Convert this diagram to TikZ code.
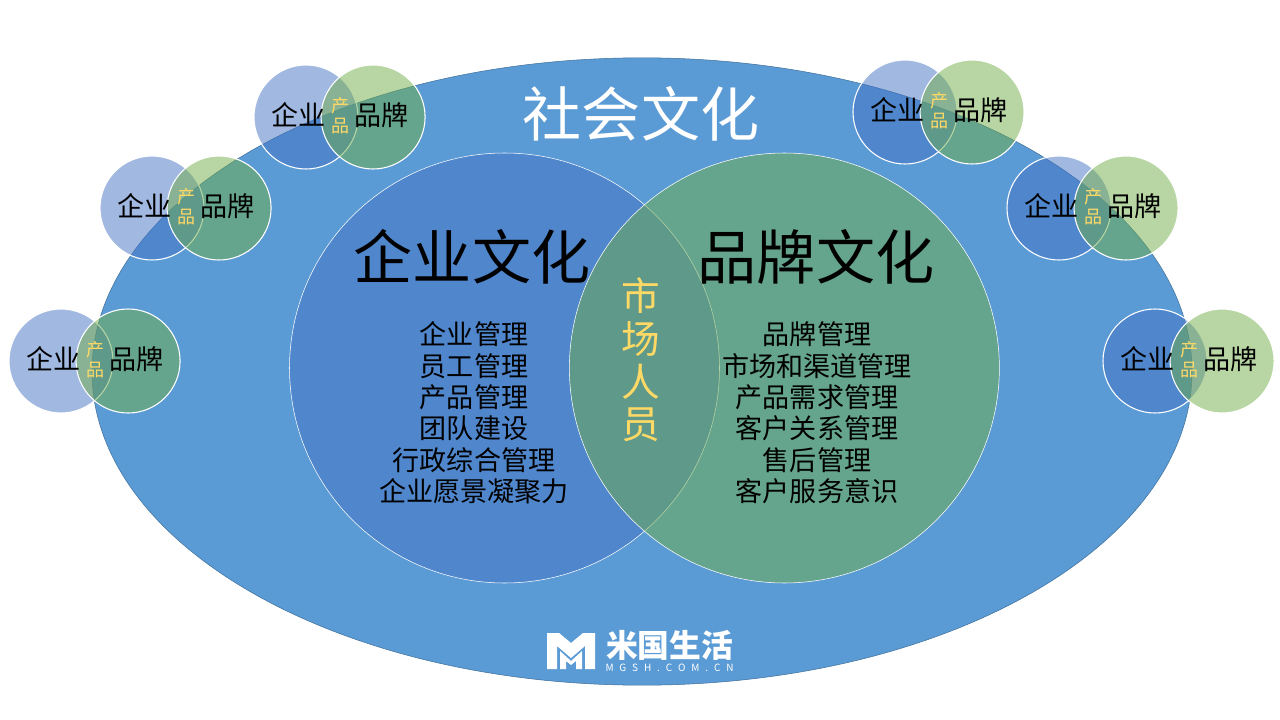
\documentclass[tikz,border=0pt]{standalone}
\usepackage{fontspec}
\setmainfont{Noto Sans CJK SC}
\usetikzlibrary{positioning,calc,shapes.geometric}
\definecolor{society}{HTML}{5B9BD5}
\definecolor{bluefill}{HTML}{4472C4}
\definecolor{greenfill}{HTML}{70AD47}
\definecolor{marketgold}{HTML}{FFD966}
\definecolor{societyline}{HTML}{41719C}
\tikzset{
  % --- big circles ---
  societyball/.style={ellipse, draw=societyline, fill=society, minimum width=825pt,
                      minimum height=470.5pt, inner sep=0pt},
  bigblue/.style={circle, draw=white, fill=bluefill, fill opacity=0.5, minimum size=322.5pt,
                  inner sep=0pt},
  biggreen/.style={bigblue, fill=greenfill},
  % --- small pairs ---
  smallblue/.style={circle, draw=white, thick, fill=bluefill, fill opacity=0.5, draw opacity=1,
                    minimum size=78pt, inner sep=0pt},
  smallgreen/.style={smallblue, fill=greenfill},
  qylabel/.style={font=\fontsize{20.3}{24}\selectfont, xshift=-5.5pt, yshift=1.5pt},
  pplabel/.style={font=\fontsize{20.3}{24}\selectfont, xshift=6.5pt, yshift=1.5pt},
  cplabel/.style={font=\fontsize{13.5}{15}\selectfont, text=marketgold, align=center,
                  text width=14pt, inner sep=0pt, xshift=0.7pt, yshift=0.7pt},
  % --- titles and lists ---
  titletext/.style={font=\fontsize{44.3}{50}\selectfont, inner sep=0pt},
  listtext/.style={font=\fontsize{20.3}{23.5}\selectfont, align=center, inner sep=0pt},
  markettext/.style={font=\fontsize{29}{32}\selectfont, text=marketgold, align=center,
                     text width=32pt, inner sep=0pt},
  logomark/.style={fill=white, draw=none},
}

\begin{document}
\begin{tikzpicture}[x=0.75pt, y=-0.75pt]
  \useasboundingbox (0,0) rectangle (1280,720);
  \node[societyball] (society) at (642,371.5) {};
  \node[titletext, text=white] (societytitle) at (641,114) {社会文化};
  \node[bigblue] (company) at (504.5,368) {};
  \node[biggreen, right=-113pt of company] (brand) {};
  \node[titletext] (companytitle) at (472,257) {企业文化};
  \node[titletext] (brandtitle) at (816,257) {品牌文化};
  \node[listtext] (companylist) at (474,413)
        {企业管理\\员工管理\\产品管理\\团队建设\\行政综合管理\\企业愿景凝聚力};
  \node[listtext] (brandlist) at (817,413)
        {品牌管理\\市场和渠道管理\\产品需求管理\\客户关系管理\\售后管理\\客户服务意识};
  \node[markettext] (market) at (641,360) {市\\场\\人\\员};
  % --- left pairs ---
  \node[smallblue] (blueA) at (306,117) {};
  \node[smallgreen, right=-28.5pt of blueA] (greenA) {};
  \node[smallblue] (blueB) at (152,208) {};
  \node[smallgreen, right=-28.5pt of blueB] (greenB) {};
  \node[smallblue] (blueC) at (61,361) {};
  \node[smallgreen, right=-28.5pt of blueC] (greenC) {};
  % --- right pairs ---
  \node[smallblue] (blueD) at (905,112) {};
  \node[smallgreen, right=-28.5pt of blueD] (greenD) {};
  \node[smallblue] (blueE) at (1059,208) {};
  \node[smallgreen, right=-28.5pt of blueE] (greenE) {};
  \node[smallblue] (blueF) at (1155,361) {};
  \node[smallgreen, right=-28.5pt of blueF] (greenF) {};
  % --- pair labels ---
  \node[qylabel] (qyA) at (blueA) {企业};
  \node[pplabel] (ppA) at (greenA) {品牌};
  \node[cplabel] (cpA) at ($(blueA)!.5!(greenA)$) {产\\品};
  \node[qylabel] (qyB) at (blueB) {企业};
  \node[pplabel] (ppB) at (greenB) {品牌};
  \node[cplabel] (cpB) at ($(blueB)!.5!(greenB)$) {产\\品};
  \node[qylabel] (qyC) at (blueC) {企业};
  \node[pplabel] (ppC) at (greenC) {品牌};
  \node[cplabel] (cpC) at ($(blueC)!.5!(greenC)$) {产\\品};
  \node[qylabel] (qyD) at (blueD) {企业};
  \node[pplabel] (ppD) at (greenD) {品牌};
  \node[cplabel] (cpD) at ($(blueD)!.5!(greenD)$) {产\\品};
  \node[qylabel] (qyE) at (blueE) {企业};
  \node[pplabel] (ppE) at (greenE) {品牌};
  \node[cplabel] (cpE) at ($(blueE)!.5!(greenE)$) {产\\品};
  \node[qylabel] (qyF) at (blueF) {企业};
  \node[pplabel] (ppF) at (greenF) {品牌};
  \node[cplabel] (cpF) at ($(blueF)!.5!(greenF)$) {产\\品};
  % --- logo ---
  \fill[logomark] (547,633) -- (559,633) -- (571,643) -- (583,633) -- (595,633) -- (595,669)
        -- (585,669) -- (585,646) -- (571,658) -- (557,646) -- (557,669) -- (547,669) -- cycle;
  \fill[logomark] (560,651) -- (571,661) -- (582,651) -- (582,669) -- (576,669) -- (576,661)
        -- (571,665) -- (566,661) -- (566,669) -- (560,669) -- cycle;
  \node[font=\bfseries\fontsize{23.8}{26}\selectfont, text=white, inner sep=0pt] (logotext) at (669.5,645) {米国生活};
  \node[font=\fontsize{7.5}{8}\selectfont, text=white, inner sep=0pt, below=2.5pt of logotext] (logourl)
        {M\hspace{4.4pt}G\hspace{4.4pt}S\hspace{4.4pt}H\hspace{4.4pt}.\hspace{4.4pt}C\hspace{4.4pt}O\hspace{4.4pt}M\hspace{4.4pt}.\hspace{4.4pt}C\hspace{4.4pt}N};
\end{tikzpicture}
\end{document}
